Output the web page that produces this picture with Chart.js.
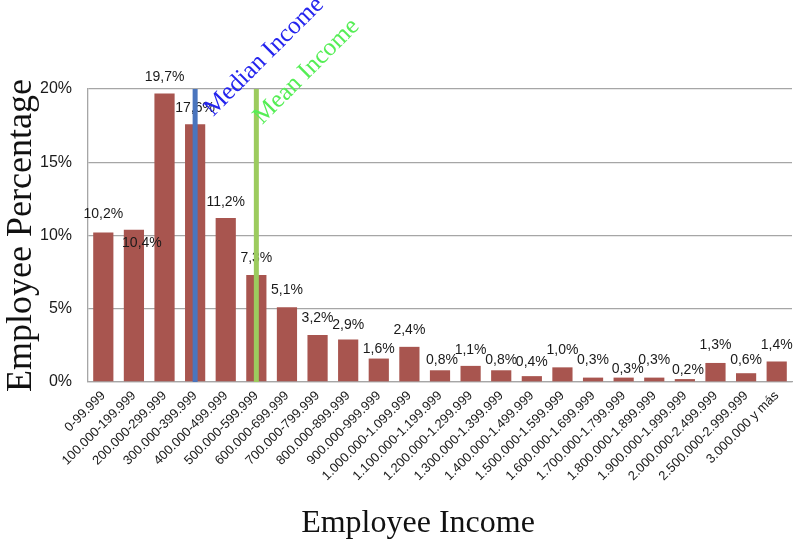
<!DOCTYPE html>
<html>
<head>
<meta charset="utf-8">
<script src="https://cdn.jsdelivr.net/npm/chart.js@4.4.0/dist/chart.umd.min.js"></script>
<style>
  html, body { margin: 0; padding: 0; background: #fff; }
</style>
</head>
<body>
<canvas id="incomeChart" width="800" height="549"></canvas>
<script>
// data
const incomeLabels = [
  "0-99.999", "100.000-199.999", "200.000-299.999", "300.000-399.999",
  "400.000-499.999", "500.000-599.999", "600.000-699.999", "700.000-799.999",
  "800.000-899.999", "900.000-999.999", "1.000.000-1.099.999", "1.100.000-1.199.999",
  "1.200.000-1.299.999", "1.300.000-1.399.999", "1.400.000-1.499.999", "1.500.000-1.599.999",
  "1.600.000-1.699.999", "1.700.000-1.799.999", "1.800.000-1.899.999", "1.900.000-1.999.999",
  "2.000.000-2.499.999", "2.500.000-2.999.999", "3.000.000 y más"
];
const employeePct = [10.2, 10.4, 19.7, 17.6, 11.2, 7.3, 5.1, 3.2, 2.9, 1.6, 2.4, 0.8,
                     1.1, 0.8, 0.4, 1.0, 0.3, 0.3, 0.3, 0.2, 1.3, 0.6, 1.4];
const yTicks = [0, 5, 10, 15, 20];
const markerNames = ["Median Income", "Mean Income"];
const markerCategory = [3, 5];

// label placement, like excel left it (px)
const labelLift = [18, -14, 16, 16, 16, 17, 17, 17, 14, 9, 17, 10,
                   16, 10, 14, 17, 17, 8, 17, 9, 18, 13, 16];
const labelShift = [0, 8, 0, 0, 0, 0, 0, 0, 0, 0, 0, 2,
                    0, 0, 0, 0, 0, 4, 0, 3, 0, 0, 0];
const markerStyle = [
  { line: "#4A75BE", text: "#2525EE", dx: 18, dy: 28 },
  { line: "#9CCB5E", text: "#55EE55", dx: 6, dy: 36 }
];

const fmtPct = v => v.toFixed(1).replace(".", ",") + "%";

const valueLabels = {
  id: "valueLabels",
  afterDatasetsDraw(chart) {
    const ctx = chart.ctx;
    const meta = chart.getDatasetMeta(0);
    ctx.save();
    ctx.font = '14px "Liberation Sans", Arial, sans-serif';
    ctx.fillStyle = "#1a1a1a";
    ctx.textAlign = "center";
    ctx.textBaseline = "middle";
    meta.data.forEach((bar, i) => {
      ctx.fillText(fmtPct(employeePct[i]), bar.x + labelShift[i], bar.y - labelLift[i]);
    });
    ctx.restore();
  }
};

const incomeMarkers = {
  id: "incomeMarkers",
  afterDatasetsDraw(chart) {
    const { ctx, chartArea, scales } = chart;
    markerNames.forEach((name, i) => {
      const st = markerStyle[i];
      const px = scales.x.getPixelForValue(markerCategory[i]);
      ctx.save();
      ctx.strokeStyle = st.line;
      ctx.lineWidth = 5;
      ctx.beginPath();
      ctx.moveTo(px, chartArea.top);
      ctx.lineTo(px, chartArea.bottom);
      ctx.stroke();
      ctx.translate(px + st.dx, chartArea.top + st.dy);
      ctx.rotate(-Math.PI / 4);
      ctx.font = '25px "Liberation Serif", serif';
      ctx.fillStyle = st.text;
      ctx.textAlign = "left";
      ctx.textBaseline = "alphabetic";
      ctx.fillText(name, 0, 0);
      ctx.restore();
    });
  }
};

// x axis title sits a bit left of the plot centre in the original
const xTitle = {
  id: "xTitle",
  afterDraw(chart) {
    const ctx = chart.ctx;
    ctx.save();
    ctx.font = '32px "Liberation Serif", serif';
    ctx.fillStyle = "#111";
    ctx.textAlign = "center";
    ctx.textBaseline = "middle";
    ctx.fillText("Employee Income", 418, 524);
    ctx.restore();
  }
};

new Chart(document.getElementById("incomeChart"), {
  type: "bar",
  data: {
    labels: incomeLabels,
    datasets: [{
      data: employeePct,
      backgroundColor: "#A8554F",
      barPercentage: 0.66,
      categoryPercentage: 1.0
    }]
  },
  options: {
    responsive: false,
    animation: false,
    layout: { padding: { left: 0, right: 8, top: 89, bottom: 1 } },
    plugins: {
      legend: { display: false },
      tooltip: { enabled: false }
    },
    scales: {
      x: {
        grid: { display: false, drawTicks: false },
        border: { display: true, color: "#a6a6a6", width: 1.3 },
        ticks: {
          autoSkip: false,
          minRotation: 45,
          maxRotation: 45,
          padding: 6,
          color: "#1a1a1a",
          font: { family: '"Liberation Sans", Arial, sans-serif', size: 13 }
        },
        afterFit(scale) { scale.height = 166; }
      },
      y: {
        min: 0,
        max: 20,
        afterBuildTicks(scale) { scale.ticks = yTicks.map(v => ({ value: v })); },
        grid: { color: "#a6a6a6", lineWidth: 1.3, drawTicks: false },
        border: { display: true, color: "#a6a6a6", width: 1.3 },
        ticks: {
          padding: 16,
          color: "#1a1a1a",
          font: { family: '"Liberation Sans", Arial, sans-serif', size: 16 },
          callback: v => v + "%"
        },
        title: {
          display: true,
          text: "Employee Percentage",
          color: "#111",
          padding: 0,
          font: { family: '"Liberation Serif", serif', size: 36 }
        },
        afterFit(scale) { scale.width = 88; }
      }
    }
  },
  plugins: [valueLabels, incomeMarkers, xTitle]
});
</script>
</body>
</html>
